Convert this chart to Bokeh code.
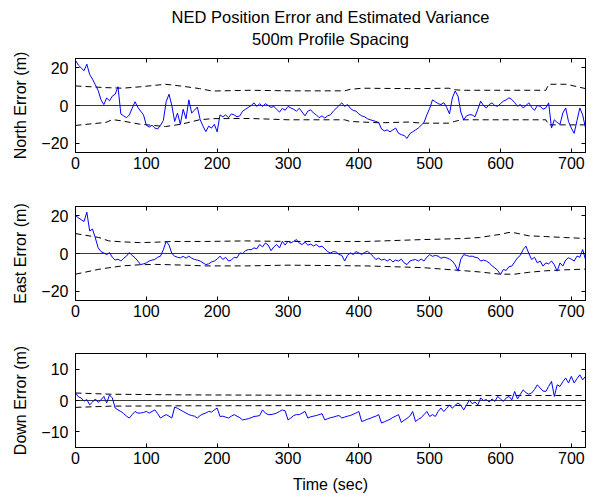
from bokeh.plotting import figure
from bokeh.layouts import column
from bokeh.models import LinearAxis, Range1d, FixedTicker, Title, CustomLabelingPolicy
from bokeh.embed import file_html
from bokeh.resources import INLINE

# ---------------- data ----------------
time_s = list(range(0, 724, 4))  # sample times (sec), 0..720

north_err = [
    24, 21.5, 20, 18.5, 22, 16.5, 14, 11, 8, 3,
    0.5, 4, 2.5, 5, 6, 10, -4.5, -5.5, -6.5, -5,
    -1.5, 2, -1, -3, -5, -10.5, -11.5, -10.5, -12, -12.5,
    -10.5, -8, 2, 6, 0, -8.5, -4, -10, -2, -7,
    3, -4, -2.5, -0.8, -7.5, -11, -13.9, -11, -12, -10,
    -14, -5, -6, -5, -6.5, -4.5, -5, -6, -5.5, -3,
    -2, -1, 0, 1.4, -0.5, 1, -0.5, 1, 0, -1,
    -0.5, -2, -3.5, -1.5, -2.5, -0.5, -1.3, -2, -3, -1.5,
    -3.5, -5.5, -3, -2.3, -4, -5, -6.5, -5.5, -6.7, -5.5,
    -4.9, -3, -1.5, 0, 1.4, -0.5, 0.5, -1.5, -2.6, -3,
    -4.5, -5.5, -6, -7, -7.6, -8, -8.5, -9, -12.5, -13.5,
    -13, -14, -13, -12, -14.8, -15.5, -16, -17.5, -15, -14,
    -13, -12, -10.5, -9, -5, -1.5, 3, 2, 1, 0.5,
    1.5, -1, -4.5, 4, 7.7, 5, -3.5, -7.6, -5.5, -4.9,
    -5, -6, -2, 2.3, 0, -1.3, 0.5, 1.4, 0, -0.4,
    1, 2.3, 3, 4.1, 3.2, 1.5, -0.4, 0.5, -1.3, 0,
    1.4, -1, -2.6, 0, -0.4, -2, -1.3, 1.4, -12, -7.6,
    -9, -10, -4, -1.3, -8.5, -12, -14.8, -8, -1.3, -5,
    -12,
]

east_err = [
    20.2, 19, 18, 17, 22, 12, 13, 8.3, 3, 1,
    0.3, -0.6, 0.5, -2, -3.5, -3, -4, -2.5, -1.4, 0.5,
    -1, -2.3, -4, -5.9, -5.5, -5, -4, -3.5, -3.2, -2,
    -1.4, 2, 6.5, 4.5, 0, -1.4, -2, -2.3, -1.5, -2.5,
    -1.4, -2.5, -3.2, -3.5, -4, -5, -5.9, -5.5, -4.5, -4,
    -3, -1.4, -3.2, -2, -4, -3.5, -2, -2.3, 0.3, 0,
    1.5, 2.1, 2, 3, 2.5, 4.8, 3.5, 5.6, 4.5, 1.5,
    3.5, 4.8, 3, 6.5, 4.5, 6.5, 5.6, 6.5, 7.4, 5.5,
    4.8, 6, 4.5, 5, 4, 4.8, 3.5, 3.9, 2.5, 1,
    0.3, 1, 0.8, -0.5, -1, -4, -1, 0.3, -0.5, 1,
    0.3, -0.5, 0.5, 1.2, 0, -1.5, -3.2, -2.5, -3.5, -3,
    -4, -3, -4.5, -3.5, -4, -3, -5, -5.9, -4, -3.5,
    -3.2, -4, -3, -4, -2, -0.6, -1.5, -1, -1.4, -2.5,
    -2, -2.3, -3, -4, -6, -9.4, -3, -0.6, -1, -1.5,
    -1.4, -2, -2.3, -4, -3.5, -4, -5, -6.5, -7.7, -9,
    -11.2, -8.5, -9, -7, -6.7, -4.5, -2.3, -1, 2.1, 3.9,
    0, -3.2, -2, -5, -4, -6.7, -5, -5.5, -4, -6,
    -9.4, -5, -6.7, -3.5, -2.3, -3, -4, -1.4, -2, 2.1,
    -3.2,
]

down_err = [
    2.4, 1.2, 0.8, -0.2, 0.3, -1.4, -0.5, 0.5, -0.6, 0.2,
    1.3, -0.8, 1.8, 0.8, -2.4, -3, -3.5, -4.2, -5, -5.6,
    -4.5, -3.5, -4, -4, -3.8, -3.5, -4, -3.5, -3, -4.2,
    -5.6, -5, -4.5, -5, -5.6, -2.1, -2.5, -3, -3.5, -4,
    -4.5, -4.8, -5, -5.6, -4.8, -4.3, -4, -3.5, -3.7, -3,
    -2.4, -5.1, -5, -5.3, -5.6, -5, -4.5, -5, -5.5, -6.2,
    -6, -5.8, -5.5, -5.1, -5, -4.8, -3, -4, -4.5, -4.5,
    -4.3, -4, -3.5, -3, -3.3, -6.2, -5.6, -4.8, -4.5, -4.5,
    -4, -3.5, -5.6, -5.2, -5, -4.8, -4.5, -4.2, -6.2, -5.8,
    -5.5, -5.3, -5, -4.8, -5.6, -5.3, -5, -4.8, -4.4, -4,
    -3.5, -6.7, -6.4, -6, -5.7, -5.3, -5, -4.5, -7.2, -6.8,
    -6.4, -6, -5.4, -5, -4.5, -7, -6.3, -5.7, -5, -3.5,
    -6.7, -6, -5.5, -4.5, -3.5, -5.1, -4.5, -5.1, -3.5, -2.4,
    -3.5, -2.5, -1.4, -2.5, -1.5, -0.8, -1.5, -3, -1.5, 0.2,
    -1, -0.5, -1.4, 0.8, 0, 0.3, -0.5, 0.5, -0.3, 1.3,
    0.5, -0.3, 0.8, 1.3, 0.2, 2.9, 0.5, 2, 3.4, 2.5,
    2, 2.4, 3.5, 5, 4, 3, 2.9, 4.5, 6.1, 1.3,
    5, 4.5, 6, 7.2, 5.6, 7.7, 5.6, 7, 8.2, 6.6,
    7.7,
]

# estimated variance envelopes (dashed)
north_env_t = [0, 43, 52, 66, 90, 127, 150, 175, 193, 247, 300, 380, 388, 405, 430, 470,
               490, 527, 535, 545, 664, 668, 693, 720]
north_env_up = [10.4, 9.5, 9.4, 9.2, 9.9, 11.3, 10.3, 9, 7.7, 8.1, 7.8, 7.8, 8.6, 9.2, 9.1, 9,
                9, 9.2, 8.4, 8.1, 8.1, 11.3, 11.3, 9]
north_env_lo = [-10.6, -9, -7.5, -8.2, -9.9, -11.2, -9.9, -7.6, -7, -6.9, -7.6, -7.6, -8.5, -8.8,
                -9.2, -8.8, -9.4, -9.4, -8.5, -7.6, -7.6, -10.3, -10.3, -10.3]

east_env_t = [0, 33, 47, 66, 90, 113, 137, 184, 240, 300, 410, 490, 550, 570, 600, 612, 620,
              640, 664, 690, 720]
east_env_up = [10.6, 8.5, 6.7, 6.2, 5.8, 6, 6.4, 6.4, 6.7, 6.4, 6.4, 7.4, 8, 8.5, 10.2, 11.2, 11,
               9.4, 9, 8.5, 8]
east_env_lo = [-11, -8.4, -7.6, -6.6, -6, -5.8, -6, -6.6, -6.6, -6.2, -6.6, -7.5, -9.2, -9.8,
               -11, -11, -11, -10, -9.2, -8.7, -8.3]

down_env_t = [0, 50, 150, 400, 720]
down_env_up = [2.4, 2, 1.8, 1.6, 1.6]
down_env_lo = [-2.2, -1.8, -1.7, -1.6, -1.6]

x_ticks = [0, 100, 200, 300, 400, 500, 600, 700]
north_ticks = [-20, 0, 20]
east_ticks = [-20, 0, 20]
down_ticks = [-10, 0, 10]

title_lines = ["NED Position Error and Estimated Variance", "500m Profile Spacing"]

FONT = "Liberation Sans"
FS = "16px"
FRAME_W, FRAME_H = 510, 94

NO_LABELS = CustomLabelingPolicy(code="""
for (let i = 0; i < indices.size; i++) { indices.unset(i) }
return indices
""")


def make_panel(ylabel, yr, yticks, t, vals, et, eu, el, top, bottom, xlabel=None, titles=None):
    p = figure(width=75 + FRAME_W + 5, height=top + FRAME_H + bottom,
               x_range=Range1d(0, 720), y_range=Range1d(*yr),
               output_backend="svg", toolbar_location=None, title=None,
               min_border_left=75, min_border_right=5,
               min_border_top=top, min_border_bottom=bottom)
    p.grid.visible = False
    p.outline_line_color = "black"
    p.outline_line_width = 1
    p.background_fill_color = "white"
    p.border_fill_color = "white"

    xa = p.xaxis[0]
    xa.ticker = FixedTicker(ticks=x_ticks)
    ya = p.yaxis[0]
    ya.ticker = FixedTicker(ticks=yticks)
    ya.major_label_overrides = {v: str(v).replace("-", "\u2212") for v in yticks}
    for ax in (xa, ya):
        ax.major_tick_in = 4
        ax.major_tick_out = 0
        ax.minor_tick_line_color = None
        ax.axis_line_color = "black"
        ax.major_tick_line_color = "black"
        ax.major_label_text_font = FONT
        ax.major_label_text_font_size = FS
        ax.major_label_text_color = "black"
        ax.axis_label_text_font = FONT
        ax.axis_label_text_font_size = FS
        ax.axis_label_text_font_style = "normal"
        ax.axis_label_text_color = "black"
    xa.major_label_standoff = 4
    ya.major_label_standoff = 7
    ya.axis_label = ylabel
    ya.axis_label_standoff = 9
    if xlabel:
        xa.axis_label = xlabel
        xa.axis_label_standoff = 9

    ra = LinearAxis(ticker=FixedTicker(ticks=yticks), major_tick_in=4, major_tick_out=0,
                    minor_tick_line_color=None, major_label_text_font_size="0px",
                    major_label_standoff=0, axis_line_color="black",
                    major_label_policy=NO_LABELS)
    p.add_layout(ra, "right")
    ta = LinearAxis(ticker=FixedTicker(ticks=x_ticks), major_tick_in=4, major_tick_out=0,
                    minor_tick_line_color=None, major_label_text_font_size="0px",
                    major_label_standoff=0, axis_line_color="black",
                    major_label_policy=NO_LABELS)
    p.add_layout(ta, "above")
    if titles:
        # invisible spacer between the frame and the title lines
        spacer = LinearAxis(ticker=FixedTicker(ticks=x_ticks), major_tick_in=0, major_tick_out=10,
                            major_tick_line_color=None, minor_tick_line_color=None,
                            axis_line_color=None, major_label_text_font_size="0px",
                            major_label_standoff=0, major_label_policy=NO_LABELS)
        p.add_layout(spacer, "above")
        # titles[1] sits nearest the frame, titles[0] above it
        p.add_layout(Title(text=titles[1], align="center", text_font=FONT,
                           text_font_size="16.5px", text_font_style="normal",
                           text_color="black", standoff=2), "above")
        p.add_layout(Title(text=titles[0], align="center", text_font=FONT,
                           text_font_size="16.5px", text_font_style="normal",
                           text_color="black", standoff=2), "above")

    p.line([0, 720], [0, 0], line_color="#3a3a3a", line_width=1)
    p.line(et, eu, line_color="black", line_width=1, line_dash="6 4")
    p.line(et, el, line_color="black", line_width=1, line_dash="6 4")
    p.line(t, vals, line_color="#0000ff", line_width=1)
    return p


p1 = make_panel("North Error (m)", (-25, 25), north_ticks, time_s, north_err,
                north_env_t, north_env_up, north_env_lo, 58, 26, titles=title_lines)
p2 = make_panel("East Error (m)", (-25, 25), east_ticks, time_s, east_err,
                east_env_t, east_env_up, east_env_lo, 28, 26)
p3 = make_panel("Down Error (m)", (-15, 15), down_ticks, time_s, down_err,
                down_env_t, down_env_up, down_env_lo, 27, 50, xlabel="Time (sec)")

layout = column(p1, p2, p3, spacing=0)
open("out.html", "w").write(file_html(layout, INLINE))
